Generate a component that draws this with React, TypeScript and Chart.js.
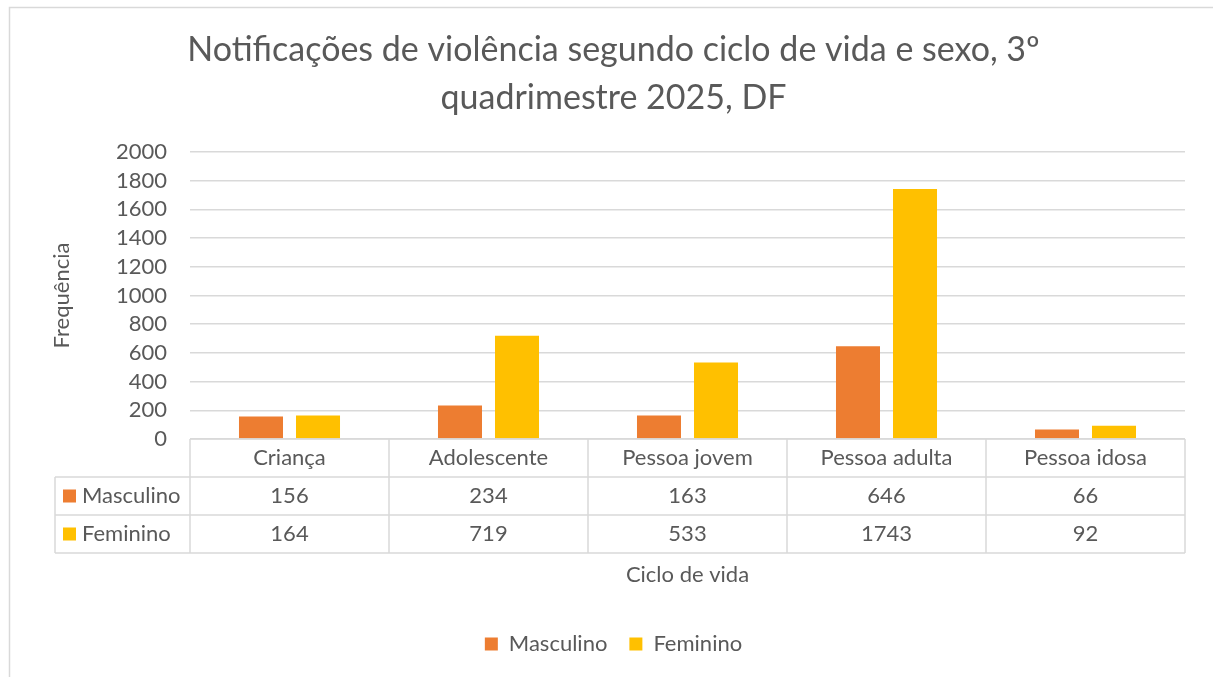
import { useEffect, useRef } from "react";
import { Chart, registerables } from "chart.js";

Chart.register(...registerables);

const titleLines = ["Notificações de violência segundo ciclo de vida e sexo, 3º", "quadrimestre 2025, DF"];
const categories = ["Criança", "Adolescente", "Pessoa jovem", "Pessoa adulta", "Pessoa idosa"];
const seriesNames = ["Masculino", "Feminino"];
const masculino = [156, 234, 163, 646, 66];
const feminino = [164, 719, 533, 1743, 92];
const seriesColors = ["#ED7D31", "#FFC000"];
const yMin = 0;
const yMax = 2000;
const yStep = 200;
const yTitle = "Frequência";
const xTitle = "Ciclo de vida";

const FONT = "Lato";
const TEXT = "#595959";
const LINE = "#D9D9D9";
const FS = 22;

const framePlugin = {
  id: "frame",
  beforeDraw(chart: any) {
    const { ctx, width, height } = chart;
    ctx.save();
    ctx.fillStyle = "#ffffff";
    ctx.fillRect(0, 0, width, height);
    ctx.strokeStyle = LINE;
    ctx.lineWidth = 1.5;
    ctx.beginPath();
    ctx.moveTo(9.5, height);
    ctx.lineTo(9.5, 7.5);
    ctx.lineTo(width, 7.5);
    ctx.stroke();
    ctx.restore();
  },
};

const tablePlugin = {
  id: "dataTable",
  afterDraw(chart: any) {
    const { ctx } = chart;
    const x = chart.scales.x;
    const n = categories.length;
    const catW = (x.right - x.left) / n;
    const top = chart.chartArea.bottom;
    const rowH = 38;
    const leftCol = x.left - 135;
    const right = x.right;
    ctx.save();
    ctx.strokeStyle = LINE;
    ctx.lineWidth = 1.5;
    ctx.beginPath();
    ctx.moveTo(x.left, top);
    ctx.lineTo(right, top);
    for (let r = 1; r <= 3; r++) {
      ctx.moveTo(leftCol, top + r * rowH);
      ctx.lineTo(right, top + r * rowH);
    }
    for (let k = 0; k <= n; k++) {
      const px = x.left + k * catW;
      ctx.moveTo(px, top);
      ctx.lineTo(px, top + 3 * rowH);
    }
    ctx.moveTo(leftCol, top + rowH);
    ctx.lineTo(leftCol, top + 3 * rowH);
    ctx.stroke();

    ctx.fillStyle = TEXT;
    ctx.font = `${FS}px ${FONT}`;
    ctx.textAlign = "center";
    ctx.textBaseline = "middle";
    const rows = [masculino, feminino];
    categories.forEach((c, i) => {
      const cx = x.getPixelForValue(i);
      ctx.fillText(c, cx, top + rowH / 2);
      rows.forEach((vals, r) => {
        ctx.fillText(String(vals[i]), cx, top + rowH * (r + 1) + rowH / 2);
      });
    });
    ctx.textAlign = "left";
    seriesNames.forEach((name, r) => {
      const cy = top + rowH * (r + 1) + rowH / 2;
      ctx.fillStyle = seriesColors[r];
      ctx.fillRect(leftCol + 8, cy - 6.5, 13, 13);
      ctx.fillStyle = TEXT;
      ctx.fillText(name, leftCol + 27, cy);
    });
    ctx.restore();
  },
};

export default function App() {
  const ref = useRef<HTMLCanvasElement | null>(null);
  useEffect(() => {
    if (!ref.current) return;
    Chart.defaults.font.family = FONT;
    const chart = new Chart(ref.current, {
      type: "bar",
      data: {
        labels: categories,
        datasets: [
          { label: seriesNames[0], data: masculino, backgroundColor: seriesColors[0] },
          { label: seriesNames[1], data: feminino, backgroundColor: seriesColors[1] },
        ],
      },
      options: {
        responsive: false,
        animation: false,
        datasets: { bar: { categoryPercentage: 0.573, barPercentage: 0.772 } },
        layout: { padding: { top: 16, left: 42, right: 28, bottom: 12 } },
        plugins: {
          title: {
            display: true,
            text: titleLines,
            color: TEXT,
            font: { family: FONT, size: 34, weight: "normal", lineHeight: 48 / 34 },
            padding: { top: 10, bottom: 30 },
          },
          legend: {
            position: "bottom",
            labels: {
              color: TEXT,
              font: { family: FONT, size: FS },
              boxWidth: 13,
              boxHeight: 13,
              padding: 22,
            },
          },
          tooltip: { enabled: false },
        },
        scales: {
          x: {
            grid: { display: false },
            border: { display: false },
            ticks: { display: false },
            title: {
              display: true,
              text: xTitle,
              color: TEXT,
              font: { family: FONT, size: FS },
              padding: { top: 0, bottom: 23 },
            },
            afterFit: (s: any) => {
              s.height = 172;
            },
          },
          y: {
            min: yMin,
            max: yMax,
            ticks: {
              stepSize: yStep,
              autoSkip: false,
              color: TEXT,
              font: { family: FONT, size: FS, lineHeight: 1 },
              padding: 23,
              callback: (v: any) => String(v),
            },
            grid: { color: LINE, lineWidth: 1.5, drawTicks: false },
            border: { display: false },
            title: {
              display: true,
              text: yTitle,
              color: TEXT,
              font: { family: FONT, size: FS },
              padding: { top: 7, bottom: 0 },
            },
            afterFit: (s: any) => {
              s.width = 148;
            },
          },
        },
      },
      plugins: [framePlugin, tablePlugin],
    });
    return () => chart.destroy();
  }, []);
  return (
    <div style={{ position: "absolute", left: 0, top: 0, width: 1213, height: 677 }}>
      <canvas ref={ref} width={1213} height={677} />
    </div>
  );
}
